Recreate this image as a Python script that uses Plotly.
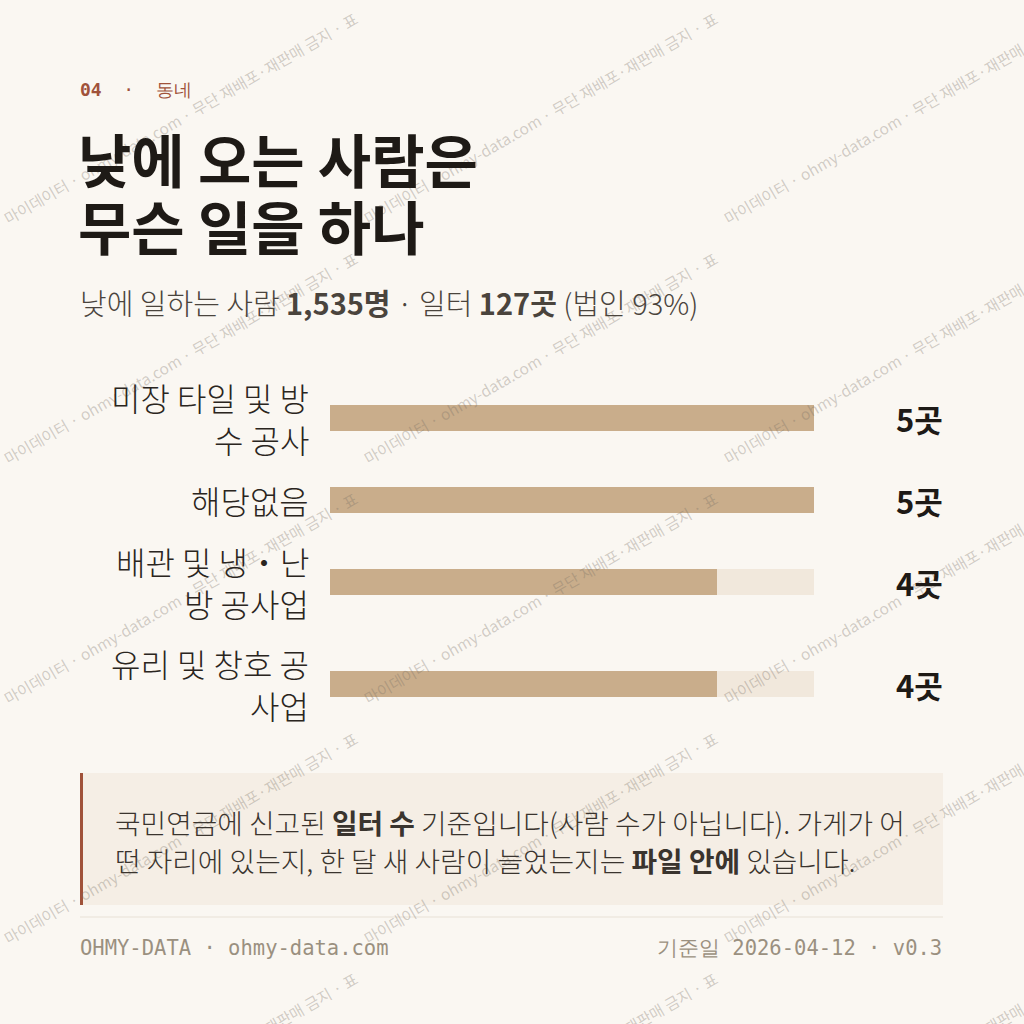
import plotly.graph_objects as go

# ---- data ----
categories = ["미장 타일 및 방수 공사", "해당없음", "배관 및 냉·난방 공사업", "유리 및 창호 공사업"]
label_lines = [["미장 타일 및 방", "수 공사"], ["해당없음"], ["배관 및 냉・난", "방 공사업"], ["유리 및 창호 공", "사업"]]
values = [5, 5, 4, 4]
value_unit = "곳"
max_value = 5

# ---- layout helpers (pixel positions, top-down) ----
W = H = 1024
row_y = [418, 500, 582, 684]
BG = "#FAF7F2"
BAR = "#C9AD8B"
TRACK = "#F1E8DC"
INK = "#1E1A16"
ACCENT = "#A0523A"
KR = "Noto Sans CJK KR"
MONO = "DejaVu Sans Mono"

fig = go.Figure()

fig.add_trace(go.Bar(
    y=row_y, x=[max_value] * len(values), orientation="h",
    marker=dict(color=TRACK, line=dict(width=0)), width=26,
    hoverinfo="skip", showlegend=False))
fig.add_trace(go.Bar(
    y=row_y, x=values, orientation="h",
    marker=dict(color=BAR, line=dict(width=0)), width=26,
    customdata=categories, hovertemplate="%{customdata}: %{x}곳<extra></extra>",
    showlegend=False))

ann = []
# watermark tiles
wm = "마이데이터 · ohmy-data.com · 무단 재배포·재판매 금지 · 표"
for ox in [0, 360, 720]:
    for oy in [0, 240, 480, 720, 960]:
        ann.append(dict(x=(ox + 180) / W, y=1 - (oy + 118) / H, xref="paper", yref="paper",
                        text=wm, textangle=-30, showarrow=False,
                        xanchor="center", yanchor="middle",
                        font=dict(family=KR, size=15.5, color="rgba(120,110,100,0.32)")))

# category labels
for lines, yv in zip(label_lines, row_y):
    n = len(lines)
    for i, ln in enumerate(lines):
        off = (i - (n - 1) / 2) * 42
        ann.append(dict(x=311 / W, xref="paper", y=yv + off, yref="y", text=ln,
                        showarrow=False, xanchor="right", yanchor="middle",
                        font=dict(family=KR, size=32, color="#2A2520", weight=300)))
# value labels
for v, yv in zip(values, row_y):
    ann.append(dict(x=945 / W, xref="paper", y=yv, yref="y", text=f"<b>{v}{value_unit}</b>",
                    showarrow=False, xanchor="right", yanchor="middle",
                    font=dict(family=KR, size=31, color=INK)))

def top_text(x, y, text, size, color, family=KR, anchor="left", weight=None):
    f = dict(family=family, size=size, color=color)
    if weight:
        f["weight"] = weight
    ann.append(dict(x=x / W, y=1 - y / H, xref="paper", yref="paper", text=text,
                    showarrow=False, xanchor=anchor, yanchor="middle", font=f))

top_text(78, 89, "<b>04</b>  ·  동네", 18, ACCENT, family=MONO)
top_text(76, 158, "<b>낮에 오는 사람은</b>", 58, INK)
top_text(76, 225, "<b>무슨 일을 하나</b>", 58, INK)
top_text(78, 302, "낮에 일하는 사람 <b>1,535명</b> · 일터 <b>127곳</b> (법인 93%)", 29, "#4A443D", weight=300)
top_text(113, 822, "국민연금에 신고된 <b>일터 수</b> 기준입니다(사람 수가 아닙니다). 가게가 어", 27.8, "#3A342E", weight=300)
top_text(113, 860, "떤 자리에 있는지, 한 달 새 사람이 늘었는지는 <b>파일 안에</b> 있습니다.", 27.8, "#3A342E", weight=300)
top_text(78, 948, "OHMY-DATA · ohmy-data.com", 20.5, "#9A9080", family=MONO)
top_text(944, 948, "기준일 2026-04-12 · v0.3", 20.5, "#9A9080", family=MONO, anchor="right")

shapes = [
    dict(type="rect", xref="paper", yref="paper", x0=80 / W, x1=943 / W, y0=1 - 905 / H, y1=1 - 773 / H,
         fillcolor="#F5EEE5", line=dict(width=0), layer="below"),
    dict(type="rect", xref="paper", yref="paper", x0=80 / W, x1=83 / W, y0=1 - 905 / H, y1=1 - 773 / H,
         fillcolor=ACCENT, line=dict(width=0), layer="below"),
    dict(type="line", xref="paper", yref="paper", x0=80 / W, x1=943 / W, y0=1 - 917 / H, y1=1 - 917 / H,
         line=dict(color="#E8E1D6", width=1), layer="below"),
]

fig.update_layout(
    width=W, height=H, margin=dict(l=0, r=0, t=0, b=0),
    paper_bgcolor=BG, plot_bgcolor="rgba(0,0,0,0)",
    barmode="overlay", bargap=0,
    xaxis=dict(domain=[330 / W, 814 / W], range=[0, max_value], visible=False, fixedrange=True),
    yaxis=dict(domain=[0, 1], range=[H, 0], visible=False, fixedrange=True),
    annotations=ann, shapes=shapes, showlegend=False,
)

fig.write_html("out.html", config={"displayModeBar": False},
               post_script="document.body.style.margin='0';document.body.style.background='" + BG + "';")
